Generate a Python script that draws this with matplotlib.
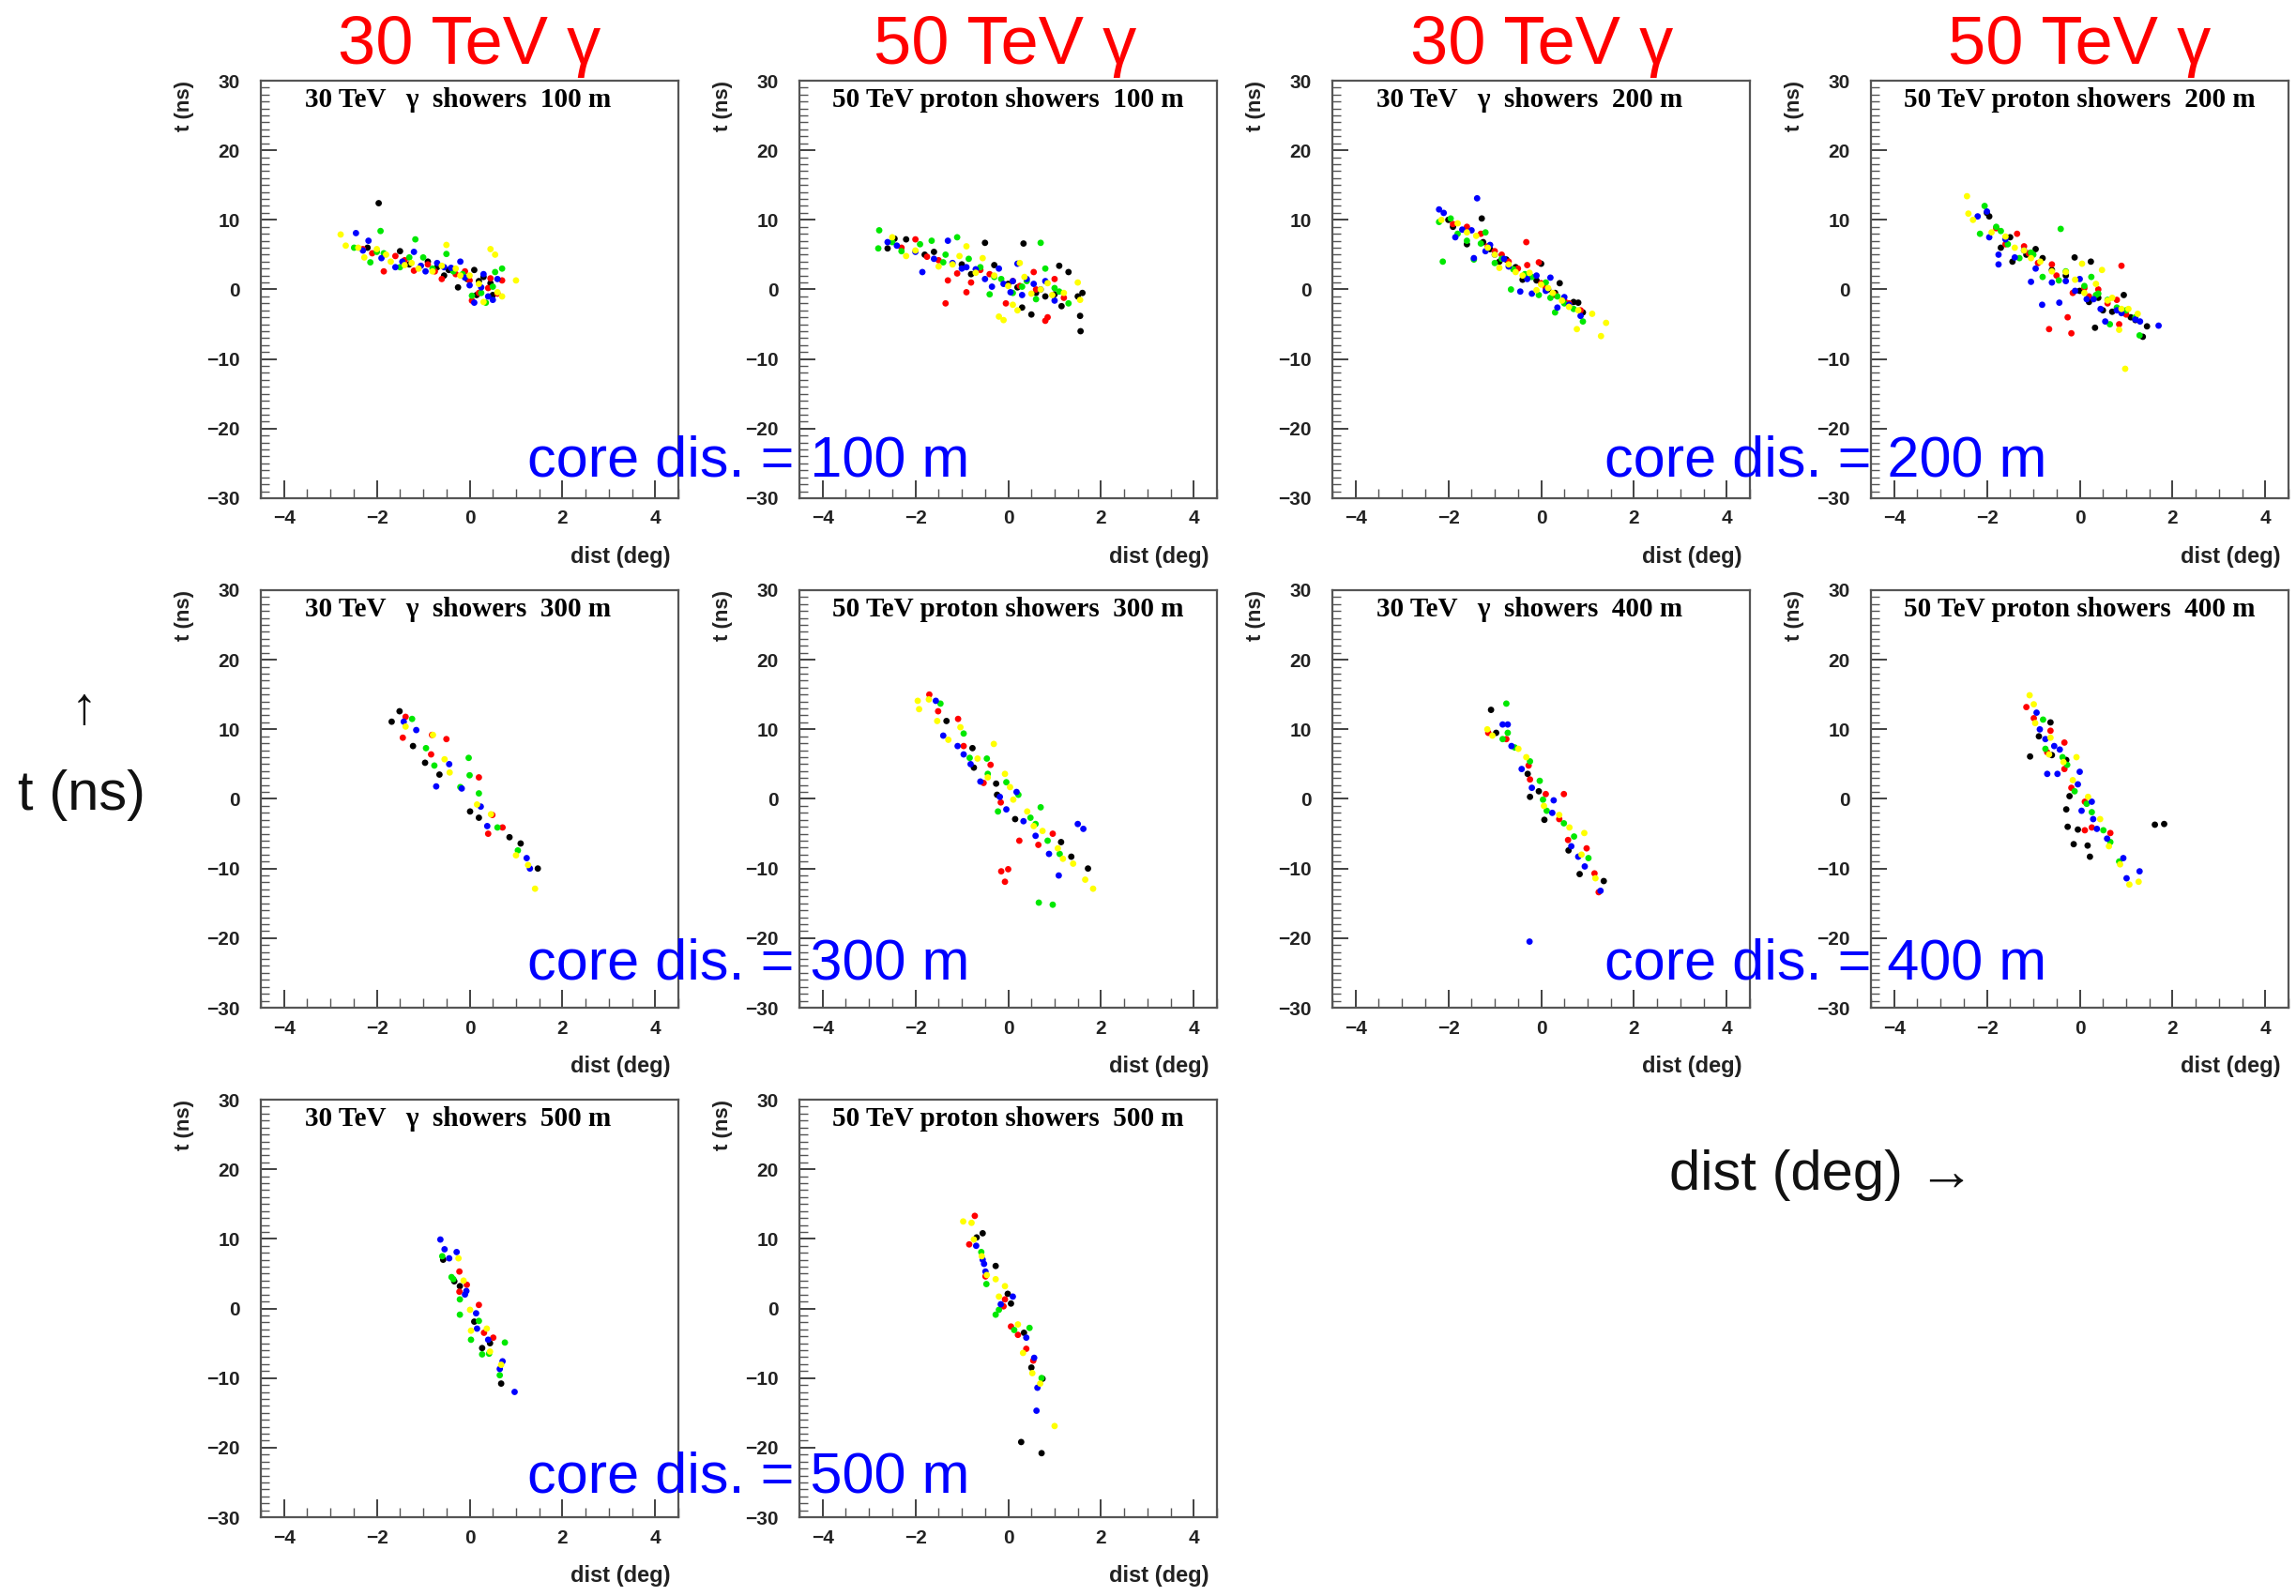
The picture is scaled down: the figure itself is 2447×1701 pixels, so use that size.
import matplotlib
matplotlib.use('Agg')
import matplotlib.pyplot as plt
from matplotlib import font_manager
from matplotlib.ticker import MultipleLocator

# figure size in pixels (dpi 100)
W, H = 2447, 1701

# ---- data: (dist in deg, t in ns) per station colour ----
gamma_100 = {
    'black': [(-1.96, 12.4), (-1.5, 5.5), (-0.9, 4.0), (-0.45, 2.8), (-0.25, 0.3), (-0.05, 1.5),
              (0.1, 2.8), (0.15, -0.8), (0.3, 1.8), (0.45, 0.9), (-0.7, 3.2), (-2.2, 6.0),
              (-1.3, 3.6), (-0.55, 2.0), (0.5, -0.8), (0.2, 1.2)],
    'red': [(-1.85, 2.6), (-1.6, 4.8), (-1.2, 2.7), (-0.9, 3.6), (-0.6, 1.5), (-0.3, 2.2),
            (0.0, 1.3), (0.2, -0.5), (0.4, 0.2), (0.7, 1.3), (-2.1, 5.2), (0.05, -1.6),
            (-2.3, 5.8), (-1.4, 4.2), (-0.75, 2.6), (-0.1, 2.6), (0.45, 1.6), (0.6, -0.6)],
    'green': [(-2.49, 6.0), (-2.14, 3.9), (-1.92, 8.4), (-1.85, 5.2), (-1.17, 7.2), (-1.0, 4.6),
              (-0.5, 5.1), (-0.15, 2.2), (0.05, -0.9), (0.35, -1.9), (0.55, 2.5), (0.7, 3.0),
              (-1.5, 3.2), (-2.0, 5.4), (-1.3, 4.6), (-0.8, 3.0), (-0.35, 2.6), (0.25, -0.5),
              (0.5, 0.4)],
    'blue': [(-2.45, 8.1), (-2.18, 7.0), (-1.9, 4.5), (-1.6, 3.2), (-1.2, 5.4), (-0.95, 2.6),
             (-0.7, 3.8), (-0.4, 3.1), (-0.1, 1.7), (0.1, -1.9), (0.25, 0.3), (0.4, -1.0),
             (0.6, 1.5), (-0.2, 4.0), (-2.3, 5.6), (-1.45, 4.0), (-1.05, 3.4), (-0.55, 3.2),
             (0.0, 0.6), (0.5, -1.5), (0.3, 2.2)],
    'yellow': [(-2.78, 7.9), (-2.67, 6.3), (-2.27, 4.6), (-2.0, 5.8), (-1.7, 4.0), (-1.4, 3.5),
               (-1.1, 3.0), (-0.5, 6.4), (-0.3, 3.0), (-0.2, 2.0), (0.3, -1.8), (0.45, 5.8),
               (0.7, -1.0), (1.0, 1.3), (0.55, 5.0), (-2.4, 6.0), (-1.8, 5.0), (-1.25, 3.8),
               (-0.8, 2.6), (-0.6, 3.4), (0.0, 2.0), (0.2, 0.8), (0.6, -0.4)],
}

proton_100 = {
    'black': [(-2.6, 5.9), (-2.45, 7.3), (-2.2, 7.2), (-1.6, 5.4), (-1.0, 3.6), (-0.5, 6.7),
              (-0.3, 3.5), (0.0, 0.8), (0.33, 6.6), (0.3, -2.6), (0.5, -3.6), (0.6, -0.5),
              (1.0, -0.7), (1.1, 3.4), (1.15, -2.4), (1.3, 2.5), (1.55, -3.8), (1.56, -6.0),
              (1.6, -0.5), (1.5, -1.0), (-1.8, 5.0), (-0.8, 2.2), (0.2, 0.3), (0.8, -1.0)],
    'red': [(-2.0, 7.2), (-1.75, 4.7), (-1.35, -2.0), (-1.3, 1.3), (-0.9, -0.4), (-0.8, 1.0),
            (-0.4, 2.2), (-0.05, -2.0), (0.25, 0.5), (0.55, 2.5), (0.8, -4.5), (0.85, -4.0),
            (1.0, 1.5), (-1.1, 2.3), (-2.3, 6.0), (-1.5, 4.2), (-0.6, 2.8), (0.1, 1.2),
            (0.6, 0.0), (1.2, -1.2)],
    'green': [(-2.78, 8.5), (-2.8, 5.9), (-2.3, 5.5), (-1.9, 6.5), (-1.65, 7.0), (-1.35, 5.0),
              (-1.1, 7.5), (-0.85, 4.4), (-0.6, 3.2), (-0.15, 1.5), (0.1, -0.5), (0.4, 1.2),
              (0.7, 6.7), (0.8, 3.0), (1.0, 0.2), (1.3, -2.0), (-0.4, -0.7), (-2.5, 6.8),
              (-1.4, 3.9), (-0.3, 1.8), (0.3, 0.4), (0.6, -1.4), (1.1, -0.3)],
    'blue': [(-2.4, 6.3), (-2.0, 5.4), (-1.85, 2.5), (-1.3, 7.0), (-1.2, 3.8), (-0.9, 3.2),
             (-0.7, 2.9), (-0.5, 1.5), (-0.2, 3.0), (0.05, -0.4), (0.1, 1.2), (0.2, 3.7),
             (0.4, 1.5), (0.55, 0.8), (0.8, 1.2), (-0.35, 0.4), (-2.6, 6.8), (-1.6, 4.4),
             (-1.0, 3.0), (-0.1, 0.8), (0.3, -0.8), (0.7, 0.0), (1.0, -1.6)],
    'yellow': [(-2.5, 7.5), (-2.2, 4.8), (-1.5, 3.3), (-1.05, 4.8), (-0.9, 6.2), (-0.55, 4.5),
               (-0.3, 2.0), (-0.2, -3.9), (-0.1, -4.4), (0.1, -2.2), (0.25, 3.8), (0.35, 1.8),
               (0.7, 0.0), (0.95, -0.8), (1.2, -0.5), (1.5, 1.0), (1.55, -1.5), (0.2, -3.0),
               (-2.0, 5.6), (-1.2, 3.6), (-0.7, 2.4), (0.0, 0.5), (0.5, -0.6), (0.85, 0.9)],
}

gamma_200 = {
    'black': [(-1.28, 10.2), (-1.9, 9.0), (-1.6, 6.5), (-1.25, 6.8), (-0.9, 4.0), (-0.75, 4.3),
              (-0.4, 1.4), (-0.1, 1.3), (0.0, 3.7), (0.4, 0.9), (0.7, -1.8), (0.8, -1.9),
              (0.9, -3.3), (0.15, 0.0), (-2.0, 10.0), (-1.1, 5.8), (-0.55, 3.2), (0.3, -0.5)],
    'red': [(-1.6, 9.0), (-1.3, 8.0), (-1.0, 5.5), (-0.85, 5.0), (-0.5, 3.0), (-0.32, 6.8),
            (-0.3, 3.5), (-0.05, 3.9), (0.1, 0.2), (0.3, -0.8), (0.6, -2.0), (0.85, -3.0),
            (-1.9, 9.4), (-1.15, 6.2), (-0.7, 4.0), (0.0, 0.9), (0.5, -1.6)],
    'green': [(-2.2, 9.7), (-2.12, 4.0), (-1.8, 8.0), (-1.6, 7.0), (-1.45, 4.3), (-1.2, 8.2),
              (-1.0, 3.8), (-0.6, 2.9), (-0.65, 0.0), (-0.2, 1.8), (-0.05, -0.8), (0.2, -1.2),
              (0.3, -3.3), (0.5, -2.0), (0.9, -4.6), (0.1, 1.0), (-1.95, 10.2), (-1.3, 6.6),
              (-0.85, 4.4), (-0.35, 2.2), (0.35, -1.0), (0.7, -2.8)],
    'blue': [(-2.2, 11.5), (-2.1, 11.0), (-1.38, 13.1), (-1.85, 7.5), (-1.5, 8.5), (-1.45, 4.5),
             (-1.2, 5.5), (-1.0, 5.0), (-0.7, 3.3), (-0.45, -0.3), (-0.2, -0.6), (0.1, -0.2),
             (0.2, 1.7), (0.35, -2.6), (0.5, -1.1), (0.85, -3.8), (-0.1, 2.0), (-1.7, 8.6),
             (-1.1, 6.4), (-0.8, 4.4), (-0.3, 1.5), (0.6, -2.2)],
    'yellow': [(-2.15, 10.0), (-1.8, 9.5), (-1.4, 7.7), (-1.15, 6.0), (-0.9, 3.1), (-0.55, 2.5),
               (-0.4, 2.0), (-0.1, -0.1), (0.0, 0.7), (0.25, -0.5), (0.45, -1.6), (0.6, -2.5),
               (0.77, -5.7), (1.1, -3.5), (1.29, -6.7), (1.40, -4.8), (-1.6, 8.2), (-1.0, 5.0),
               (-0.7, 3.6), (-0.25, 2.4), (0.15, 0.2), (0.8, -3.0)],
}

proton_200 = {
    'black': [(-2.0, 11.0), (-1.95, 10.5), (-1.7, 6.0), (-1.45, 4.0), (-1.15, 5.0), (-0.95, 5.8),
              (-0.6, 2.8), (-0.11, 4.6), (0.24, 4.0), (0.0, -0.2), (0.2, -1.8), (0.33, -5.5),
              (0.5, -3.0), (0.7, -3.2), (0.95, -0.8), (1.36, -6.8), (1.45, -5.3), (1.1, -4.0),
              (-1.5, 7.5), (-0.8, 4.5), (-0.3, 2.0), (0.4, -1.2), (1.2, -4.4)],
    'red': [(-1.6, 6.5), (-1.35, 8.0), (-1.1, 5.2), (-0.66, -5.7), (-0.5, 2.0), (-0.26, -4.0),
            (-0.18, -6.3), (-0.15, -0.5), (0.2, -1.0), (0.4, 0.0), (0.85, -5.0), (0.9, 3.4),
            (0.8, -1.5), (-0.9, 3.8), (-1.8, 8.8), (-1.2, 6.2), (-0.6, 3.6), (0.1, 0.2),
            (0.6, -2.0), (1.0, -3.6)],
    'green': [(-2.05, 12.0), (-2.15, 8.0), (-1.8, 9.0), (-1.55, 6.5), (-1.3, 4.5), (-1.05, 5.3),
              (-0.8, 1.8), (-0.41, 8.7), (-0.45, 1.3), (0.1, 0.5), (0.25, 1.8), (0.6, -1.5),
              (0.65, -5.0), (1.0, -3.0), (1.29, -6.6), (0.35, -0.8), (-1.7, 8.4), (-1.0, 5.0),
              (-0.3, 2.6), (0.4, -0.6), (0.8, -2.6), (1.2, -4.0)],
    'blue': [(-2.2, 10.5), (-2.0, 11.2), (-1.95, 7.5), (-1.75, 3.6), (-1.75, 5.0), (-1.4, 4.6),
             (-1.05, 1.1), (-0.95, 3.0), (-0.81, -2.2), (-0.44, -1.9), (-0.6, 1.0), (-0.1, -0.2),
             (0.0, 1.5), (0.15, -1.4), (0.45, -2.8), (0.55, -4.6), (1.2, -4.3), (1.7, -5.2),
             (0.8, -3.0), (-1.6, 7.2), (-1.2, 5.6), (-0.3, 1.2), (0.3, -1.4), (0.9, -3.4),
             (1.3, -4.6)],
    'yellow': [(-2.43, 13.4), (-2.40, 10.9), (-2.3, 10.0), (-1.9, 8.2), (-1.4, 6.0), (-1.05, 4.5),
               (-0.85, 4.0), (-0.3, 2.5), (0.05, 3.7), (0.48, 2.8), (0.1, -0.5), (0.35, 0.8),
               (0.7, -1.2), (0.85, -5.8), (0.98, -11.4), (1.05, -2.8), (1.25, -3.5), (-1.6, 7.6),
               (-1.2, 5.6), (-0.6, 2.6), (-0.1, 1.4), (0.6, -1.6), (0.9, -2.8)],
}

gamma_300 = {
    'black': [(-1.51, 12.6), (-1.68, 11.1), (-1.22, 7.6), (-0.96, 5.2), (-0.65, 3.5), (0.01, -1.8),
              (0.86, -5.5), (1.1, -6.4), (1.47, -10.0), (0.2, -2.7)],
    'red': [(-1.44, 8.8), (-1.38, 11.8), (-0.81, 9.2), (-0.5, 8.6), (0.2, 3.1), (0.4, -5.0),
            (-0.83, 6.4), (0.71, -4.1), (0.49, -2.3)],
    'green': [(-1.24, 11.5), (-0.02, 5.9), (0.0, 3.4), (0.2, 0.8), (-0.94, 7.3), (-0.76, 4.8),
              (-0.2, 1.7), (0.6, -4.1), (1.04, -7.4)],
    'blue': [(-0.72, 1.8), (-1.15, 9.9), (-1.42, 11.1), (-0.44, 5.0), (-0.17, 1.5), (0.24, -1.1),
             (1.23, -8.5), (1.3, -10.0), (0.38, -3.9)],
    'yellow': [(-1.38, 10.4), (-0.79, 9.2), (-0.54, 5.7), (-0.43, 3.8), (0.16, -0.8), (0.46, -2.2),
               (1.0, -8.1), (1.41, -12.9), (1.26, -9.5)],
}

proton_300 = {
    'black': [(-1.33, 11.2), (-0.77, 7.3), (-0.74, 4.5), (-0.26, 2.2), (-0.24, 0.6), (0.15, -2.9),
              (1.14, -6.2), (1.36, -8.3), (1.72, -10.0)],
    'red': [(-1.70, 15.0), (-1.51, 12.6), (-1.08, 11.5), (-0.96, 7.6), (-0.38, 4.9), (-0.53, 2.3),
            (-0.16, -0.5), (0.24, -6.0), (0.65, -6.6), (0.96, -5.0), (-0.15, -10.4), (0.0, -10.1),
            (-0.07, -11.9)],
    'green': [(-1.46, 13.7), (-0.96, 9.4), (-0.83, 5.9), (-0.46, 5.8), (-0.44, 3.6), (-0.04, 2.4),
              (-0.22, -1.8), (0.22, 0.6), (0.48, -2.7), (0.70, -1.2), (0.59, -3.6), (0.85, -6.0),
              (1.11, -7.9), (0.66, -14.9), (0.96, -15.2)],
    'blue': [(-1.56, 14.1), (-1.40, 9.1), (-1.09, 7.6), (-0.96, 6.4), (-0.81, 5.0), (-0.6, 2.5),
             (-0.18, 0.3), (-0.04, -1.5), (0.18, 1.0), (0.33, -3.2), (0.59, -5.3), (0.88, -7.9),
             (1.5, -3.6), (1.62, -4.3), (1.09, -11.0)],
    'yellow': [(-1.95, 14.1), (-1.92, 12.9), (-1.53, 11.2), (-1.71, 14.3), (-1.03, 10.3), (-1.29, 8.5),
               (-0.66, 5.8), (-0.31, 7.9), (-0.44, 3.1), (-0.07, 3.6), (0.04, 1.7), (0.11, -0.1),
               (0.41, -1.8), (0.55, -3.9), (0.74, -4.6), (1.07, -7.1), (1.18, -8.6), (1.40, -9.3),
               (1.66, -11.6), (1.83, -12.9)],
}

gamma_400 = {
    'black': [(-1.08, 12.8), (-0.97, 9.5), (-0.29, 3.6), (-0.24, 0.3), (-0.05, 1.1), (0.07, -3.0),
              (0.59, -7.4), (0.83, -10.8), (1.35, -11.8)],
    'red': [(-1.14, 9.5), (-0.75, 8.6), (-0.27, 4.8), (-0.24, 2.8), (0.10, 0.7), (0.49, 0.7),
            (0.39, -2.9), (0.58, -5.9), (0.98, -7.1), (1.15, -10.7), (1.24, -13.4)],
    'green': [(-0.75, 13.7), (-0.83, 8.6), (-0.72, 9.5), (-0.57, 7.4), (-0.24, 5.4), (-0.03, 2.6),
              (0.04, -0.1), (0.12, -1.7), (0.49, -3.5), (0.71, -5.4), (1.02, -8.5)],
    'blue': [(-0.83, 10.7), (-0.72, 10.7), (-0.64, 7.6), (-0.42, 4.3), (-0.20, 1.6), (0.27, -0.2),
             (0.24, -2.0), (0.65, -6.8), (0.80, -8.3), (0.94, -9.7), (1.28, -13.2), (-0.25, -20.5)],
    'yellow': [(-1.16, 10.0), (-1.05, 9.1), (-0.49, 7.2), (-0.32, 6.0), (0.06, -1.0), (0.39, -2.3),
               (0.61, -4.1), (0.93, -4.9), (0.87, -8.0), (1.17, -11.4)],
}

proton_400 = {
    'black': [(-0.63, 11.0), (-0.88, 9.0), (-0.60, 6.3), (-1.07, 6.1), (-0.29, 5.6), (-0.22, 0.4),
              (-0.29, -1.5), (-0.26, -4.0), (-0.04, -4.4), (-0.13, -6.5), (0.17, -6.7), (0.22, -8.3),
              (1.62, -3.7), (1.82, -3.6)],
    'red': [(-1.15, 13.2), (-0.99, 11.6), (-0.63, 9.8), (-0.33, 8.1), (-0.70, 6.7), (-0.33, 4.3),
            (-0.18, 1.6), (0.11, -0.4), (0.11, -4.5), (0.26, -4.1), (0.66, -4.9)],
    'green': [(-0.79, 11.4), (-0.74, 7.2), (-0.37, 6.0), (-0.27, 4.9), (-0.11, 1.1), (0.15, -0.7),
              (0.26, -1.9), (0.51, -4.5), (0.66, -6.2), (0.85, -9.0)],
    'blue': [(-0.93, 12.4), (-0.86, 10.0), (-0.74, 8.6), (-0.55, 7.6), (-0.43, 7.1), (-0.70, 3.6),
             (-0.48, 3.6), (0.0, 3.9), (-0.04, 2.1), (0.26, -0.4), (0.04, -1.7), (0.29, -2.9),
             (0.37, -4.3), (0.59, -5.7), (0.94, -8.5), (1.01, -11.4), (1.29, -10.4)],
    'yellow': [(-1.08, 14.9), (-0.99, 13.6), (-0.96, 10.9), (-0.63, 8.8), (-0.66, 6.4), (-0.07, 6.0),
               (-0.35, 5.3), (-0.15, 2.7), (0.18, 0.3), (0.44, -2.9), (0.63, -6.8), (0.87, -9.4),
               (1.07, -12.3), (1.27, -11.9)],
}

gamma_500 = {
    'black': [(-0.57, 7.0), (-0.33, 3.9), (-0.21, 3.2), (0.10, -1.9), (0.44, -5.0), (0.27, -5.7),
              (0.68, -10.8)],
    'red': [(-0.22, 5.3), (-0.06, 3.4), (-0.22, 2.4), (0.20, 0.5), (0.31, -3.5), (0.51, -4.2)],
    'green': [(-0.59, 7.5), (-0.39, 4.5), (-0.35, 4.2), (-0.21, 1.3), (-0.21, -0.9), (0.20, -1.8),
              (0.03, -4.5), (0.27, -6.6), (0.42, -6.5), (0.76, -4.9), (0.65, -9.6)],
    'blue': [(-0.63, 9.9), (-0.54, 8.5), (-0.28, 8.1), (-0.44, 7.2), (-0.10, 2.0), (-0.07, 2.5),
             (0.14, -0.7), (0.16, -2.9), (0.40, -4.5), (0.71, -7.6), (0.65, -8.7), (0.97, -12.0)],
    'yellow': [(-0.24, 7.2), (-0.13, 4.0), (0.01, -0.2), (0.03, -3.2), (0.37, -2.9), (0.44, -6.2),
               (0.68, -8.1)],
}

proton_500 = {
    'black': [(-0.55, 10.8), (-0.68, 10.2), (-0.27, 6.1), (-0.01, 2.1), (0.06, 0.7), (0.34, -3.5),
              (0.50, -8.5), (0.74, -10.1), (0.28, -19.2), (0.72, -20.8)],
    'red': [(-0.72, 13.3), (-0.84, 9.2), (-0.49, 4.6), (-0.07, 1.3), (-0.10, 0.3), (0.06, -2.6),
            (0.21, -3.8), (0.39, -5.8), (0.54, -7.5)],
    'green': [(-0.58, 8.1), (-0.47, 3.5), (-0.20, -0.2), (-0.27, -0.9), (0.13, -3.1), (0.46, -2.8),
              (0.72, -10.0)],
    'blue': [(-0.69, 9.0), (-0.55, 7.0), (-0.52, 6.4), (-0.49, 5.3), (0.10, 1.7), (-0.16, 0.6),
             (0.39, -4.2), (0.56, -7.1), (0.63, -11.4), (0.61, -14.7)],
    'yellow': [(-0.97, 12.5), (-0.79, 12.3), (-0.74, 9.9), (-0.57, 7.5), (-0.46, 4.8), (-0.27, 4.2),
               (-0.07, 3.2), (-0.20, 1.7), (0.21, -2.3), (0.32, -6.4), (0.52, -9.3), (0.69, -10.8),
               (1.0, -16.9)],
}

panel_titles = [
    '30 TeV   \u03b3  showers  100 m', '50 TeV proton showers  100 m',
    '30 TeV   \u03b3  showers  200 m', '50 TeV proton showers  200 m',
    '30 TeV   \u03b3  showers  300 m', '50 TeV proton showers  300 m',
    '30 TeV   \u03b3  showers  400 m', '50 TeV proton showers  400 m',
    '30 TeV   \u03b3  showers  500 m', '50 TeV proton showers  500 m',
]
panel_data = [gamma_100, proton_100, gamma_200, proton_200, gamma_300,
              proton_300, gamma_400, proton_400, gamma_500, proton_500]
column_headers = ['30 TeV \u03b3', '50 TeV \u03b3', '30 TeV \u03b3', '50 TeV \u03b3']
core_labels = ['core dis. = 100 m', 'core dis. = 200 m', 'core dis. = 300 m',
               'core dis. = 400 m', 'core dis. = 500 m']

COLORS = {'black': '#000000', 'red': '#ff0000', 'green': '#00e800',
          'blue': '#0000ff', 'yellow': '#ffff00'}

# ---- layout (pixel positions of the panel frames) ----
col_left = [278, 852, 1420, 1994]
row_top = [86, 629, 1172]
SIZE = 445

names = {f.name for f in font_manager.fontManager.ttflist}
narrow = 'Liberation Sans Narrow' if 'Liberation Sans Narrow' in names else 'Liberation Sans'
SANS = ['Liberation Sans', 'DejaVu Sans']

fig = plt.figure(figsize=(W / 100, H / 100), dpi=100)


def fx(x):
    return x / W


def fy(y):
    return 1 - y / H


for i, (data, title) in enumerate(zip(panel_data, panel_titles)):
    row, col = i // 4, i % 4
    left, top = col_left[col], row_top[row]
    ax = fig.add_axes([fx(left), fy(top + SIZE), SIZE / W, SIZE / H])

    for cname in ['black', 'red', 'green', 'blue', 'yellow']:
        pts = data[cname]
        ax.scatter([p[0] for p in pts], [p[1] for p in pts], s=24,
                   color=COLORS[cname], edgecolors='none', zorder=3)

    ax.set_xlim(-4.5, 4.5)
    ax.set_ylim(-30, 30)
    ax.set_xticks([-4, -2, 0, 2, 4])
    ax.set_yticks([-30, -20, -10, 0, 10, 20, 30])
    ax.xaxis.set_minor_locator(MultipleLocator(0.5))
    ax.yaxis.set_minor_locator(MultipleLocator(1))
    ax.tick_params(axis='y', which='major', direction='in', length=12, width=1.3,
                   pad=16, labelsize=15, colors='#333333', right=False)
    ax.tick_params(axis='y', which='minor', direction='in', length=6.5, width=1.0,
                   colors='#555555', right=False)
    ax.tick_params(axis='x', which='major', direction='in', length=14, width=1.3,
                   pad=9, labelsize=15, colors='#333333', top=False)
    ax.tick_params(axis='x', which='minor', direction='in', length=7, width=1.0,
                   colors='#555555', top=False)
    for lbl in ax.get_xticklabels() + ax.get_yticklabels():
        lbl.set_fontweight('bold')
        lbl.set_family(SANS)
        lbl.set_color('#222222')
    for sp in ax.spines.values():
        sp.set_color('#555555')
        sp.set_linewidth(1.6)

    ax.set_ylabel('t (ns)', loc='top', fontsize=16, fontweight='bold',
                  family=SANS, color='#222222')
    ax.yaxis.set_label_coords(-0.16, 1.0)
    ax.set_xlabel('dist (deg)', loc='right', fontsize=17, fontweight='bold',
                  family=SANS, color='#222222')
    ax.xaxis.set_label_coords(0.982, -0.115)

    tx = 0.5 if 'proton' in title else 0.472
    ax.text(tx, 0.955, title, transform=ax.transAxes, ha='center', va='center',
            fontsize=21, fontweight='bold', family=['Liberation Serif', 'DejaVu Serif'])

# red column headers
for cx, txt in zip([500, 1071, 1643, 2216], column_headers):
    fig.text(fx(cx), fy(68), txt, ha='center', va='baseline', fontsize=52,
             color='#ff0000', family=[narrow, 'DejaVu Sans'])

# blue core-distance labels
core_pos = [(562, 508), (1710, 508), (562, 1043), (1710, 1043), (562, 1590)]
for (bx, by), txt in zip(core_pos, core_labels):
    fig.text(fx(bx), fy(by), txt, ha='left', va='baseline', fontsize=44,
             color='#0000ff', family=SANS, zorder=10)

# global axis hints
fig.text(fx(89), fy(757), '\u2191', ha='center', va='center', fontsize=40,
         color='#111111', family=SANS)
fig.text(fx(87), fy(863), 't (ns)', ha='center', va='baseline', fontsize=43,
         color='#111111', family=SANS)
fig.text(fx(1779), fy(1268), 'dist (deg) \u2192', ha='left', va='baseline', fontsize=43,
         color='#111111', family=SANS)

fig.savefig('out.png', dpi=100)
